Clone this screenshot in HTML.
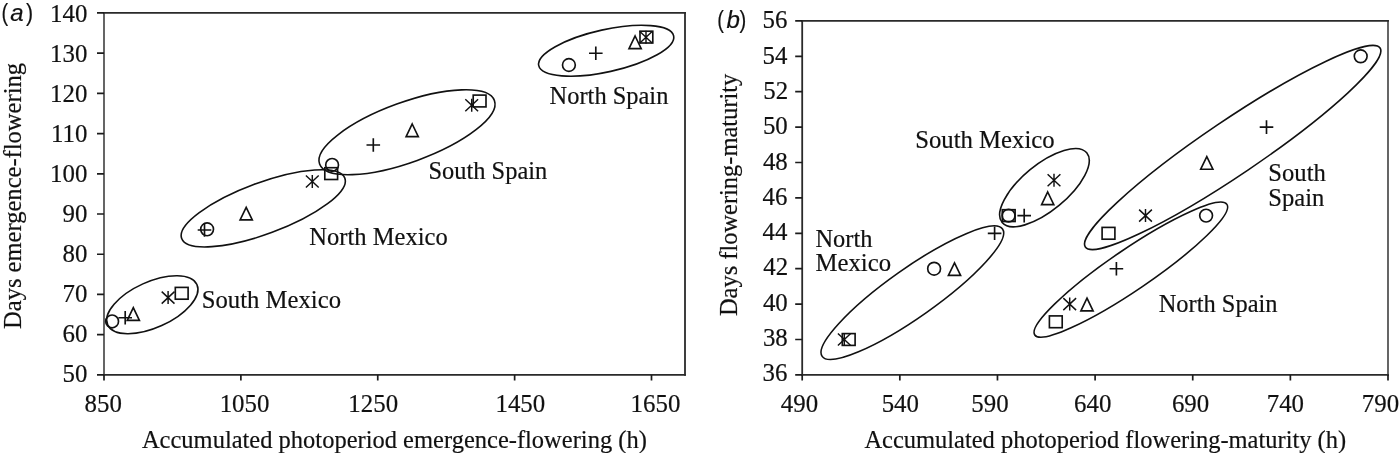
<!DOCTYPE html>
<html lang="en">
<head>
<meta charset="utf-8">
<title>Figure</title>
<style>
html,body{margin:0;padding:0;background:#fff;}
body{width:1400px;height:453px;overflow:hidden;}
svg{display:block;}
text{fill:#111;stroke:#111;stroke-width:0.2px;}
.t{font-family:"Liberation Serif",serif;font-size:26.2px;}
.l{font-family:"Liberation Serif",serif;font-size:25.5px;}
.p{font-family:"Liberation Sans",sans-serif;font-size:24.5px;}
.pi{font-family:"Liberation Sans",sans-serif;font-size:24.5px;font-style:italic;}
.ax{fill:none;stroke:#2a2a2a;stroke-width:1.8;}
.axl{fill:none;stroke:#555;stroke-width:1.8;}
.tk{fill:none;stroke:#1c1c1c;stroke-width:1.7;}
.m{fill:none;stroke:#111;stroke-width:1.65;}
.s{stroke-width:1.45;}
.e{fill:none;stroke:#111;stroke-width:1.6;}
</style>
</head>
<body>
<svg width="1400" height="453" viewBox="0 0 1400 453">
<rect width="1400" height="453" fill="#fff"/>
<path d="M104 12.0V375.79999999999995" class="axl"/>
<path d="M685 12.0V375.79999999999995" class="ax"/>
<path d="M103.1 12.9H685.9M103.1 374.9H685.9" class="ax"/>
<path d="M97.00 374.90H104M97.00 334.68H104M97.00 294.46H104M97.00 254.23H104M97.00 214.01H104M97.00 173.79H104M97.00 133.57H104M97.00 93.34H104M97.00 53.12H104M97.00 12.90H104M104.00 374.9V380.4M240.88 374.9V380.4M377.75 374.9V380.4M514.63 374.9V380.4M651.50 374.9V380.4" class="tk"/>
<circle cx="112.10" cy="321.40" r="6.4" class="m"/>
<path d="M118.40 317.70h13.6M125.20 310.90v13.6" class="m"/>
<path d="M133.30 307.70L139.40 320.30H127.20Z" class="m"/>
<path d="M161.70 291.60l12.8 12.0M174.50 291.60l-12.8 12.0M168.10 291.10v13.0" class="m s"/>
<rect x="175.30" y="287.40" width="12.8" height="11.8" class="m"/>
<circle cx="207.10" cy="229.30" r="6.4" class="m"/>
<path d="M197.70 230.00h13.6M204.50 223.20v13.6" class="m"/>
<path d="M246.20 207.30L252.30 219.90H240.10Z" class="m"/>
<path d="M305.90 175.50l12.8 12.0M318.70 175.50l-12.8 12.0M312.30 175.00v13.0" class="m s"/>
<rect x="324.80" y="167.70" width="12.8" height="11.8" class="m"/>
<circle cx="332.10" cy="164.90" r="6.4" class="m"/>
<path d="M366.50 145.00h13.6M373.30 138.20v13.6" class="m"/>
<path d="M412.20 124.00L418.30 136.60H406.10Z" class="m"/>
<path d="M465.30 99.30l12.8 12.0M478.10 99.30l-12.8 12.0M471.70 98.80v13.0" class="m s"/>
<rect x="473.20" y="95.10" width="12.8" height="11.8" class="m"/>
<circle cx="568.90" cy="65.00" r="6.4" class="m"/>
<path d="M589.00 53.20h13.6M595.80 46.40v13.6" class="m"/>
<path d="M635.10 36.00L641.20 48.60H629.00Z" class="m"/>
<path d="M639.60 31.20l12.8 12.0M652.40 31.20l-12.8 12.0M646.00 30.70v13.0" class="m s"/>
<rect x="640.00" y="31.20" width="12.8" height="11.8" class="m"/>
<ellipse cx="152.3" cy="304.7" rx="48.96" ry="22.87" transform="rotate(-24.32 152.3 304.7)" class="e"/>
<ellipse cx="263.25" cy="208.3" rx="86.97" ry="25.66" transform="rotate(-20.3 263.25 208.3)" class="e"/>
<ellipse cx="407.0" cy="132.25" rx="93.0" ry="29.95" transform="rotate(-19.98 407.0 132.25)" class="e"/>
<ellipse cx="606.2" cy="50.75" rx="69.08" ry="21.11" transform="rotate(-12.49 606.2 50.75)" class="e"/>
<path d="M802.2 20.0V375.79999999999995" class="ax"/>
<path d="M1388 20.0V375.79999999999995" class="axl"/>
<path d="M801.3000000000001 20.9H1388.9M801.3000000000001 374.9H1388.9" class="ax"/>
<path d="M795.20 374.90H802.2M795.20 339.50H802.2M795.20 304.10H802.2M795.20 268.70H802.2M795.20 233.30H802.2M795.20 197.90H802.2M795.20 162.50H802.2M795.20 127.10H802.2M795.20 91.70H802.2M795.20 56.30H802.2M795.20 20.90H802.2M802.20 374.9V380.4M899.83 374.9V380.4M997.47 374.9V380.4M1095.10 374.9V380.4M1192.73 374.9V380.4M1290.37 374.9V380.4M1388.00 374.9V380.4" class="tk"/>
<path d="M837.90 333.50l12.8 12.0M850.70 333.50l-12.8 12.0M844.30 333.00v13.0" class="m s"/>
<rect x="842.30" y="333.60" width="12.8" height="11.8" class="m"/>
<circle cx="934.10" cy="268.70" r="6.4" class="m"/>
<path d="M954.50 262.80L960.60 275.40H948.40Z" class="m"/>
<path d="M987.80 233.30h13.6M994.60 226.50v13.6" class="m"/>
<rect x="1002.30" y="209.70" width="12.8" height="11.8" class="m"/>
<circle cx="1008.60" cy="215.60" r="6.4" class="m"/>
<path d="M1017.40 215.60h13.6M1024.20 208.80v13.6" class="m"/>
<path d="M1047.70 192.00L1053.80 204.60H1041.60Z" class="m"/>
<path d="M1047.60 174.20l12.8 12.0M1060.40 174.20l-12.8 12.0M1054.00 173.70v13.0" class="m s"/>
<rect x="1102.10" y="227.40" width="12.8" height="11.8" class="m"/>
<path d="M1139.10 209.60l12.8 12.0M1151.90 209.60l-12.8 12.0M1145.50 209.10v13.0" class="m s"/>
<path d="M1206.80 156.60L1212.90 169.20H1200.70Z" class="m"/>
<path d="M1259.70 127.10h13.6M1266.50 120.30v13.6" class="m"/>
<circle cx="1360.70" cy="56.30" r="6.4" class="m"/>
<rect x="1049.40" y="315.90" width="12.8" height="11.8" class="m"/>
<path d="M1063.30 298.10l12.8 12.0M1076.10 298.10l-12.8 12.0M1069.70 297.60v13.0" class="m s"/>
<path d="M1087.00 298.20L1093.10 310.80H1080.90Z" class="m"/>
<path d="M1109.60 268.70h13.6M1116.40 261.90v13.6" class="m"/>
<circle cx="1206.10" cy="215.60" r="6.4" class="m"/>
<ellipse cx="912.35" cy="292.7" rx="110.4" ry="24.3" transform="rotate(-35.22 912.35 292.7)" class="e"/>
<ellipse cx="1044.45" cy="187.7" rx="54.79" ry="23.01" transform="rotate(-39.48 1044.45 187.7)" class="e"/>
<ellipse cx="1232.7" cy="147.5" rx="177.8" ry="27.2" transform="rotate(-34.02 1232.7 147.5)" class="e"/>
<ellipse cx="1130.85" cy="269.65" rx="116.15" ry="20.47" transform="rotate(-34.2 1130.85 269.65)" class="e"/>
<text transform="translate(62.49 382.14) scale(0.9500 1)" class="t">50</text>
<text transform="translate(62.49 342.08) scale(0.9500 1)" class="t">60</text>
<text transform="translate(62.49 302.02) scale(0.9500 1)" class="t">70</text>
<text transform="translate(62.49 261.96) scale(0.9500 1)" class="t">80</text>
<text transform="translate(62.49 221.90) scale(0.9500 1)" class="t">90</text>
<text transform="translate(50.04 181.84) scale(0.9500 1)" class="t">100</text>
<text transform="translate(50.97 141.78) scale(0.9500 1)" class="t">110</text>
<text transform="translate(50.04 101.72) scale(0.9500 1)" class="t">120</text>
<text transform="translate(50.04 61.66) scale(0.9500 1)" class="t">130</text>
<text transform="translate(50.04 21.60) scale(0.9500 1)" class="t">140</text>
<text transform="translate(84.52 412.20) scale(0.9500 1)" class="t">850</text>
<text transform="translate(219.66 412.20) scale(0.9500 1)" class="t">1050</text>
<text transform="translate(348.36 412.20) scale(0.9500 1)" class="t">1250</text>
<text transform="translate(495.46 412.20) scale(0.9500 1)" class="t">1450</text>
<text transform="translate(630.56 412.20) scale(0.9500 1)" class="t">1650</text>
<text transform="translate(201.76 308.00) scale(0.9689 1)" class="l">South Mexico</text>
<text transform="translate(309.32 244.70) scale(0.9631 1)" class="l">North Mexico</text>
<text transform="translate(428.47 179.00) scale(0.9585 1)" class="l">South Spain</text>
<text transform="translate(549.62 104.30) scale(0.9583 1)" class="l">North Spain</text>
<text transform="translate(141.90 448.00) scale(0.9609 1)" class="l">Accumulated photoperiod emergence-flowering (h)</text>
<text transform="translate(20.80 328.98) rotate(-90) scale(0.9631 1)" class="l">Days emergence-flowering</text>
<text transform="translate(1.57 20.90) scale(0.8127 1)" class="p">(</text>
<text transform="translate(10.23 21.10) scale(0.9776 1)" class="pi">a</text>
<text transform="translate(26.10 20.90) scale(0.8707 1)" class="p">)</text>
<text transform="translate(762.50 381.20) scale(0.9500 1)" class="t">36</text>
<text transform="translate(762.89 345.92) scale(0.9500 1)" class="t">38</text>
<text transform="translate(762.89 310.64) scale(0.9500 1)" class="t">40</text>
<text transform="translate(763.28 275.36) scale(0.9500 1)" class="t">42</text>
<text transform="translate(762.50 240.08) scale(0.9500 1)" class="t">44</text>
<text transform="translate(762.50 204.80) scale(0.9500 1)" class="t">46</text>
<text transform="translate(762.89 169.52) scale(0.9500 1)" class="t">48</text>
<text transform="translate(762.89 134.24) scale(0.9500 1)" class="t">50</text>
<text transform="translate(763.28 98.96) scale(0.9500 1)" class="t">52</text>
<text transform="translate(762.50 63.68) scale(0.9500 1)" class="t">54</text>
<text transform="translate(762.50 28.40) scale(0.9500 1)" class="t">56</text>
<text transform="translate(780.81 412.20) scale(0.9500 1)" class="t">490</text>
<text transform="translate(881.63 412.20) scale(0.9500 1)" class="t">540</text>
<text transform="translate(971.33 412.20) scale(0.9500 1)" class="t">590</text>
<text transform="translate(1074.02 412.20) scale(0.9500 1)" class="t">640</text>
<text transform="translate(1171.92 412.20) scale(0.9500 1)" class="t">690</text>
<text transform="translate(1266.74 412.20) scale(0.9500 1)" class="t">740</text>
<text transform="translate(1361.84 412.20) scale(0.9500 1)" class="t">790</text>
<text transform="translate(915.25 148.10) scale(0.9696 1)" class="l">South Mexico</text>
<text transform="translate(815.42 246.50) scale(0.9578 1)" class="l">North</text>
<text transform="translate(815.41 271.30) scale(0.9713 1)" class="l">Mexico</text>
<text transform="translate(1268.36 180.80) scale(0.9651 1)" class="l">South</text>
<text transform="translate(1268.37 205.80) scale(0.9630 1)" class="l">Spain</text>
<text transform="translate(1158.72 311.90) scale(0.9583 1)" class="l">North Spain</text>
<text transform="translate(864.40 447.80) scale(0.9598 1)" class="l">Accumulated photoperiod flowering-maturity (h)</text>
<text transform="translate(737.10 316.08) rotate(-90) scale(0.9588 1)" class="l">Days flowering-maturity</text>
<text transform="translate(717.17 28.00) scale(0.8127 1)" class="p">(</text>
<text transform="translate(726.50 28.20) scale(0.9834 1)" class="pi">b</text>
<text transform="translate(739.60 28.00) scale(0.8272 1)" class="p">)</text>
</svg>
</body>
</html>
